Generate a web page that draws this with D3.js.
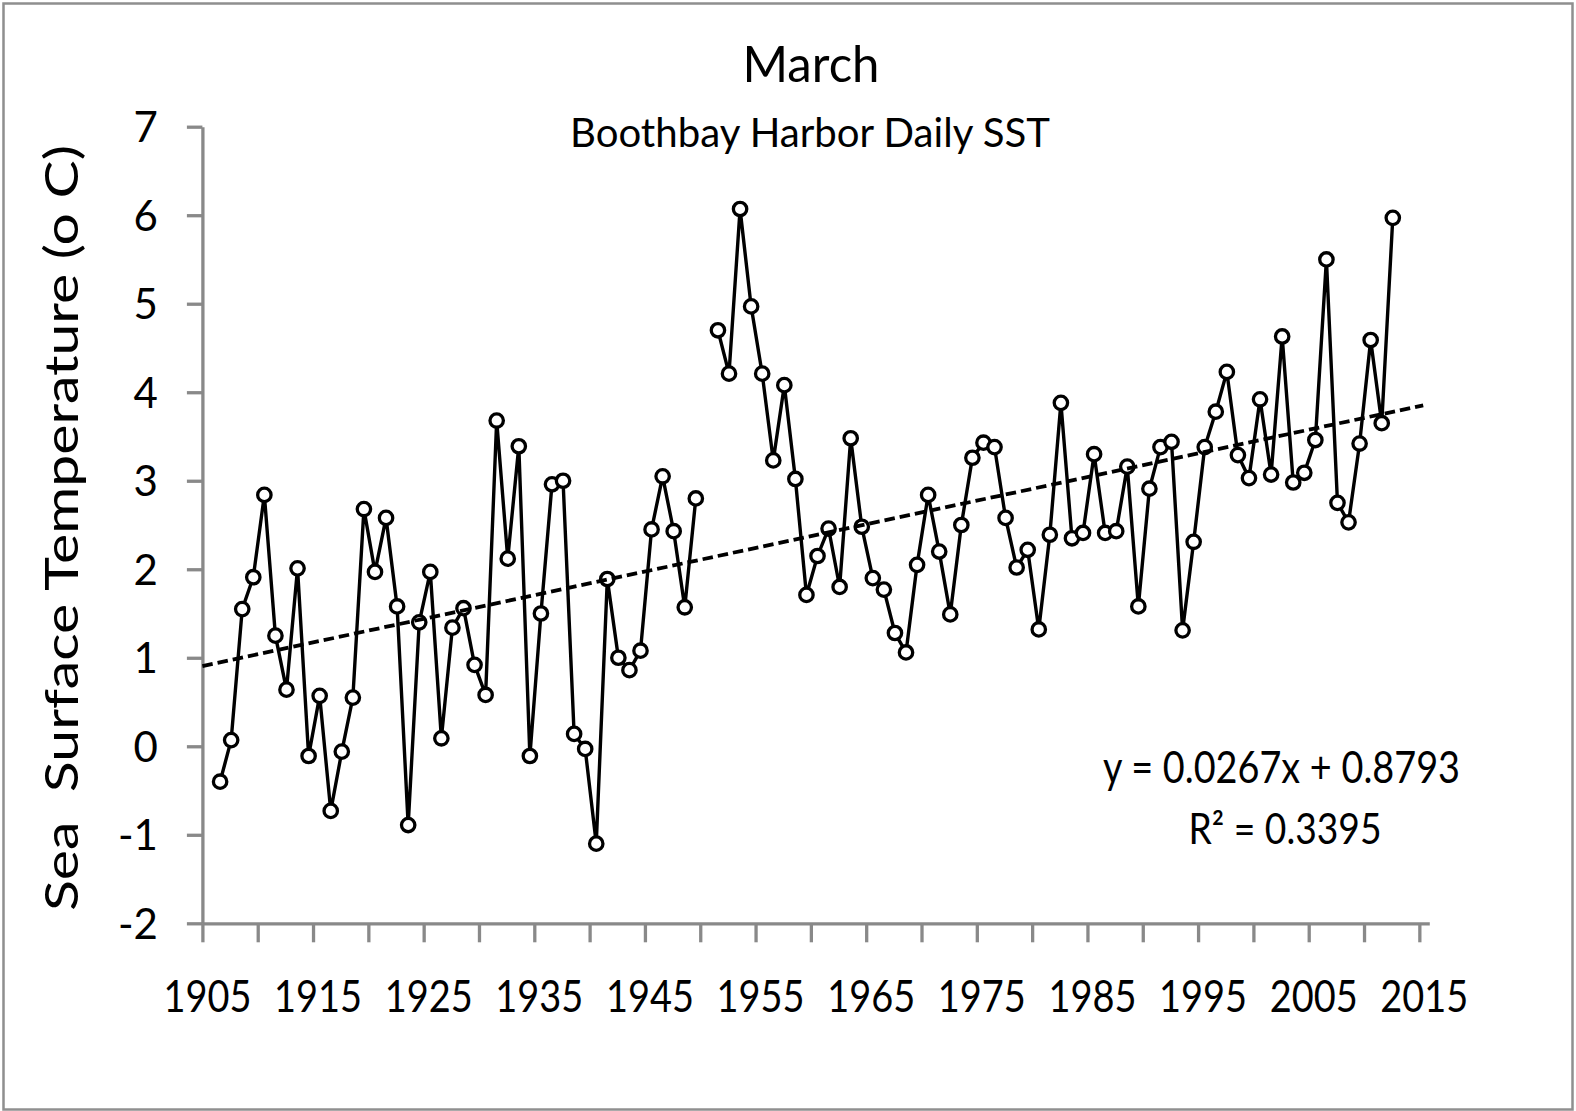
<!DOCTYPE html>
<html>
<head>
<meta charset="utf-8">
<script src="https://cdn.jsdelivr.net/npm/d3@7"></script>
<style>
  html, body { margin: 0; padding: 0; background: #ffffff; }
  svg { display: block; }
  text { font-family: Lato, "Liberation Sans", sans-serif; fill: #000; }
</style>
</head>
<body>
<svg id="chart" width="1576" height="1111"></svg>
<script>
// ---------- DATA ----------
const years = d3.range(1906, 2013);   // categories (1950 has no value)
const sst = [
  -0.40, 0.07, 1.55, 1.91, 2.84, 1.25, 0.64, 2.01, -0.11, 0.57,   // 1906-1915
  -0.73, -0.06, 0.55, 2.68, 1.97, 2.58, 1.58, -0.89, 1.40, 1.97,  // 1916-1925
  0.09, 1.34, 1.56, 0.92, 0.58, 3.68, 2.12, 3.39, -0.11, 1.50,    // 1926-1935
  2.96, 3.00, 0.14, -0.03, -1.10, 1.89, 1.00, 0.86, 1.08, 2.45,   // 1936-1945
  3.05, 2.43, 1.57, 2.80, null, 4.70, 4.21, 6.07, 4.97, 4.21,     // 1946-1955
  3.23, 4.08, 3.02, 1.71, 2.15, 2.46, 1.80, 3.48, 2.48, 1.90,     // 1956-1965
  1.77, 1.28, 1.06, 2.05, 2.84, 2.20, 1.49, 2.50, 3.26, 3.43,     // 1966-1975
  3.38, 2.58, 2.02, 2.22, 1.32, 2.39, 3.88, 2.35, 2.41, 3.30,     // 1976-1985
  2.41, 2.43, 3.16, 1.58, 2.91, 3.38, 3.44, 1.31, 2.31, 3.38,     // 1986-1995
  3.78, 4.23, 3.29, 3.03, 3.92, 3.07, 4.63, 2.98, 3.09, 3.46,     // 1996-2005
  5.50, 2.75, 2.53, 3.42, 4.59, 3.65, 5.97                        // 2006-2012
];
const yTickValues = [-2, -1, 0, 1, 2, 3, 4, 5, 6, 7];
const xTickValues = [1905, 1910, 1915, 1920, 1925, 1930, 1935, 1940, 1945, 1950, 1955,
                     1960, 1965, 1970, 1975, 1980, 1985, 1990, 1995, 2000, 2005, 2010, 2015];
const xLabelYears = [1905, 1915, 1925, 1935, 1945, 1955, 1965, 1975, 1985, 1995, 2005, 2015];
const trendSlope = 0.0267;
const trendIntercept = 0.8793;
const trendR2 = 0.3395;
const trendOrigin = 1904;            // trend x = 1 at 1905
const trendSpan = [1905, 2015.35];   // years covered by the drawn trendline
const titleText = "March";
const subtitleText = "Boothbay Harbor Daily SST";
const yLabelText = "Sea  Surface Temperature (o C)";

// ---------- LAYOUT ----------
const W = 1576, H = 1111;
const axisGrey = "#898989";
const pointOffset = 0.6;   // points sit within their year slot
const x = d3.scaleLinear().domain([1905, 2015.9]).range([202.4, 1429.3]);
const y = d3.scaleLinear().domain([-2, 7]).range([923.3, 126.7]);

const svg = d3.select("#chart");

// outer frame
svg.append("rect")
  .attr("x", 3.5).attr("y", 3.5)
  .attr("width", W - 7).attr("height", H - 5)
  .attr("fill", "#fff")
  .attr("stroke", "#8f8f8f").attr("stroke-width", 2.5);

// ---------- AXES ----------
const yAxis = d3.axisLeft(y)
  .tickValues(yTickValues)
  .tickSizeInner(15.5).tickSizeOuter(0)
  .tickPadding(29)
  .tickFormat(d => String(d).replace("\u2212", "-"));
const gy = svg.append("g").attr("transform", `translate(${x(1905)},0)`).call(yAxis);
gy.select(".domain").attr("stroke", axisGrey).attr("stroke-width", 3.3);
gy.selectAll(".tick line").attr("stroke", axisGrey).attr("stroke-width", 3.3);
gy.selectAll(".tick text")
  .attr("dy", "0.36em")
  .style("font-family", "Lato, 'Liberation Sans', sans-serif")
  .style("font-size", "42px")
  .attr("fill", "#000");

const xAxis = d3.axisBottom(x)
  .tickValues(xTickValues)
  .tickSizeInner(19).tickSizeOuter(0)
  .tickFormat(d => xLabelYears.includes(d) ? String(d) : "");
const gx = svg.append("g").attr("transform", `translate(0,${y(-2)})`).call(xAxis);
gx.select(".domain").attr("stroke", axisGrey).attr("stroke-width", 3.3);
gx.selectAll(".tick line").attr("stroke", axisGrey).attr("stroke-width", 3.3);
gx.selectAll(".tick text")
  .attr("y", 88.4).attr("dy", 0).attr("dx", 4.5)
  .style("font-family", "Lato, 'Liberation Sans', sans-serif")
  .style("font-size", "45px")
  .attr("fill", "#000")
  .each(function(d) {
    if (xLabelYears.includes(d)) {
      d3.select(this).attr("textLength", 88).attr("lengthAdjust", "spacingAndGlyphs");
    }
  });

// ---------- SERIES ----------
const pts = years.map((yr, i) => ({ year: yr, v: sst[i] }));

const line = d3.line()
  .defined(d => d.v !== null)
  .x(d => x(d.year + pointOffset))
  .y(d => y(d.v));

svg.append("path")
  .datum(pts)
  .attr("d", line)
  .attr("fill", "none")
  .attr("stroke", "#000")
  .attr("stroke-width", 3.4)
  .attr("stroke-linejoin", "miter");

svg.append("g").selectAll("circle")
  .data(pts.filter(d => d.v !== null))
  .join("circle")
  .attr("cx", d => x(d.year + pointOffset))
  .attr("cy", d => y(d.v))
  .attr("r", 6.7)
  .attr("fill", "#fff")
  .attr("stroke", "#000")
  .attr("stroke-width", 3.3);

// trendline
const trendFn = t => trendSlope * (t - trendOrigin) + trendIntercept;
svg.append("path")
  .datum(trendSpan)
  .attr("d", d3.line().x(t => x(t)).y(t => y(trendFn(t))))
  .attr("fill", "none")
  .attr("stroke", "#000")
  .attr("stroke-width", 3.8)
  .attr("stroke-dasharray", "10.5,5");

// ---------- TEXT ----------
svg.append("text")
  .attr("x", 811).attr("y", 81.7)
  .attr("text-anchor", "middle")
  .style("font-size", "51px")
  .attr("textLength", 137).attr("lengthAdjust", "spacingAndGlyphs")
  .text(titleText);

svg.append("text")
  .attr("x", 810).attr("y", 147.3)
  .attr("text-anchor", "middle")
  .style("font-size", "40.5px")
  .attr("textLength", 480).attr("lengthAdjust", "spacingAndGlyphs")
  .text(subtitleText);

svg.append("text")
  .attr("transform", "translate(78,528) rotate(-90)")
  .attr("text-anchor", "middle")
  .style("font-size", "47px")
  .style("white-space", "pre")
  .attr("textLength", 766).attr("lengthAdjust", "spacingAndGlyphs")
  .text(yLabelText);

svg.append("text")
  .attr("x", 1281.5).attr("y", 783.3)
  .attr("text-anchor", "middle")
  .style("font-size", "44px")
  .attr("textLength", 357).attr("lengthAdjust", "spacingAndGlyphs")
  .text(`y = ${trendSlope}x + ${trendIntercept}`);

svg.append("text")
  .attr("x", 1285).attr("y", 844.3)
  .attr("text-anchor", "middle")
  .style("font-size", "42px")
  .attr("textLength", 193).attr("lengthAdjust", "spacingAndGlyphs")
  .text(`R\u00B2 = ${trendR2}`);
</script>
</body>
</html>
